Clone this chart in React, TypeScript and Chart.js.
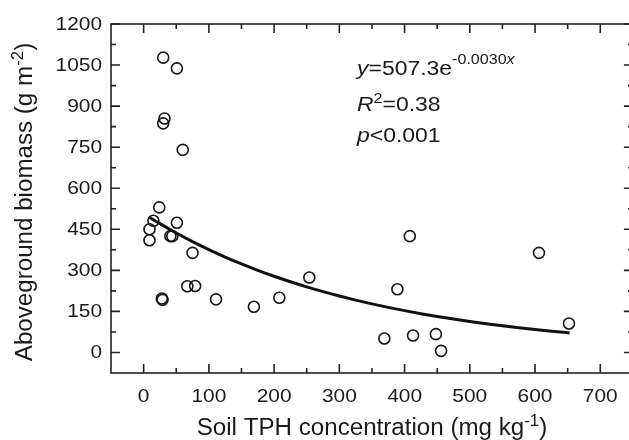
import React, { useEffect, useRef } from "react";
import { Chart, registerables } from "chart.js";

Chart.register(...registerables);

// ---- data ----
const tphValues = [30, 51, 32, 30, 60, 24, 15, 9, 9, 51, 41, 44, 75, 67, 79, 28, 29, 111, 169, 208, 254, 408, 606, 389, 652, 369, 413, 448, 456];
const biomassValues = [1077, 1038, 855, 837, 740, 530, 481, 450, 410, 474, 425, 425, 364, 242, 243, 197, 192, 194, 167, 200, 274, 425, 364, 231, 106, 51, 62, 67, 6];

// fitted curve y = a * exp(b x), as printed on the chart
const fitA = 507.3;
const fitB = -0.003;
const fitX = [9, 25, 50, 75, 100, 125, 150, 175, 200, 225, 250, 275, 300, 325, 350, 375, 400, 425, 450, 475, 500, 525, 550, 575, 600, 625, 653];

const xMajorTicks = [0, 100, 200, 300, 400, 500, 600, 700];
const xMinorTicks = [50, 150, 250, 350, 450, 550, 650];
const yMajorTicks = [0, 150, 300, 450, 600, 750, 900, 1050, 1200];
const yMinorTicks = [75, 225, 375, 525, 675, 825, 975, 1125];

const FAMILY = '"Liberation Sans", Arial, sans-serif';
const INK = "#1a1a1a";

type Seg = { t: string; it?: boolean; sup?: boolean; rise?: number };

function drawRich(
  ctx: CanvasRenderingContext2D,
  segs: Seg[],
  x: number,
  y: number,
  size: number,
  sx: number,
  align: "left" | "center" | "right"
) {
  const supSize = size * 0.7;
  const fontOf = (s: Seg) => `${s.it ? "italic " : ""}${s.sup ? supSize : size}px ${FAMILY}`;
  const widths = segs.map((s) => {
    ctx.font = fontOf(s);
    return ctx.measureText(s.t).width;
  });
  const total = widths.reduce((a, b) => a + b, 0) * sx;
  const start = align === "left" ? x : align === "center" ? x - total / 2 : x - total;
  ctx.save();
  ctx.translate(start, y);
  ctx.scale(sx, 1);
  ctx.textAlign = "left";
  ctx.textBaseline = "alphabetic";
  ctx.fillStyle = INK;
  let cx = 0;
  segs.forEach((s, i) => {
    ctx.font = fontOf(s);
    const r = s.sup ? (s.rise ?? size * 0.45) : 0;
    ctx.fillText(s.t, cx, -r);
    cx += widths[i];
  });
  ctx.restore();
}

const framePlugin = {
  id: "frameAndText",
  afterDraw(chart: any) {
    const ctx: CanvasRenderingContext2D = chart.ctx;
    const { left, right, top, bottom } = chart.chartArea;
    const xs = chart.scales.x;
    const ys = chart.scales.y;
    ctx.save();
    ctx.strokeStyle = "#222";
    ctx.lineWidth = 1.6;
    ctx.strokeRect(left, top, right - left, bottom - top);
    const major = 9;
    const minor = 5;
    ctx.beginPath();
    const xt = (v: number, len: number) => {
      const px = xs.getPixelForValue(v);
      ctx.moveTo(px, bottom);
      ctx.lineTo(px, bottom - len);
      ctx.moveTo(px, top);
      ctx.lineTo(px, top + len);
    };
    const yt = (v: number, len: number) => {
      const py = ys.getPixelForValue(v);
      ctx.moveTo(left, py);
      ctx.lineTo(left + len, py);
      ctx.moveTo(right, py);
      ctx.lineTo(right - len, py);
    };
    xMajorTicks.forEach((v) => xt(v, major));
    xMinorTicks.forEach((v) => xt(v, minor));
    yMajorTicks.forEach((v) => yt(v, major));
    yMinorTicks.forEach((v) => yt(v, minor));
    ctx.stroke();
    ctx.restore();

    // tick labels
    const tickSize = 19;
    const tickSx = 1.1;
    xMajorTicks.forEach((v) => {
      drawRich(ctx, [{ t: String(v) }], xs.getPixelForValue(v), 402, tickSize, tickSx, "center");
    });
    yMajorTicks.forEach((v) => {
      drawRich(ctx, [{ t: String(v) }], left - 9, ys.getPixelForValue(v) + 6, tickSize, tickSx, "right");
    });

    // axis titles
    drawRich(
      ctx,
      [{ t: "Soil TPH concentration (mg kg" }, { t: "-1", sup: true, rise: 9.5 }, { t: ")" }],
      372,
      435,
      23,
      1.05,
      "center"
    );
    ctx.save();
    ctx.translate(32, 202);
    ctx.rotate(-Math.PI / 2);
    drawRich(
      ctx,
      [{ t: "Aboveground biomass (g m" }, { t: "-2", sup: true, rise: 9.5 }, { t: ")" }],
      0,
      0,
      23,
      1.05,
      "center"
    );
    ctx.restore();

    // annotation
    drawRich(
      ctx,
      [{ t: "y", it: true }, { t: "=507.3e" }, { t: "-0.0030", sup: true, rise: 11 }, { t: "x", it: true, sup: true, rise: 11 }],
      357,
      75,
      20.5,
      1.12,
      "left"
    );
    drawRich(ctx, [{ t: "R", it: true }, { t: "2", sup: true, rise: 8 }, { t: "=0.38" }], 357, 111, 20.5, 1.12, "left");
    drawRich(ctx, [{ t: "p", it: true }, { t: "<0.001" }], 357, 142, 20.5, 1.12, "left");
  },
};

export default function App() {
  const ref = useRef<HTMLCanvasElement | null>(null);
  useEffect(() => {
    document.documentElement.style.overflow = "hidden";
    document.body.style.overflow = "hidden";
    const canvas = ref.current;
    if (!canvas) return;
    const points = tphValues.map((x, i) => ({ x, y: biomassValues[i] }));
    const curve = fitX.map((x) => ({ x, y: fitA * Math.exp(fitB * x) }));
    const chart = new Chart(canvas, {
      type: "scatter",
      data: {
        datasets: [
          {
            type: "line",
            data: curve,
            borderColor: "#111",
            borderWidth: 3,
            pointRadius: 0,
            fill: false,
            cubicInterpolationMode: "monotone",
            order: 2,
          } as any,
          {
            data: points,
            pointRadius: 5.5,
            pointBorderWidth: 1.6,
            pointBorderColor: "#151515",
            pointBackgroundColor: "rgba(0,0,0,0)",
            showLine: false,
            order: 1,
          } as any,
        ],
      },
      options: {
        responsive: false,
        animation: false,
        devicePixelRatio: 1,
        layout: { padding: { left: 111, top: 24, right: 5, bottom: 67 } },
        plugins: { legend: { display: false }, tooltip: { enabled: false } },
        scales: {
          x: { type: "linear", min: -50, max: 750, display: false },
          y: { type: "linear", min: -75, max: 1200, display: false },
        },
      } as any,
      plugins: [framePlugin as any],
    });
    return () => chart.destroy();
  }, []);
  return (
    <canvas
      ref={ref}
      width={640}
      height={440}
      style={{ position: "absolute", left: 0, top: 0, width: 640, height: 440, display: "block", background: "#fff" }}
    />
  );
}
